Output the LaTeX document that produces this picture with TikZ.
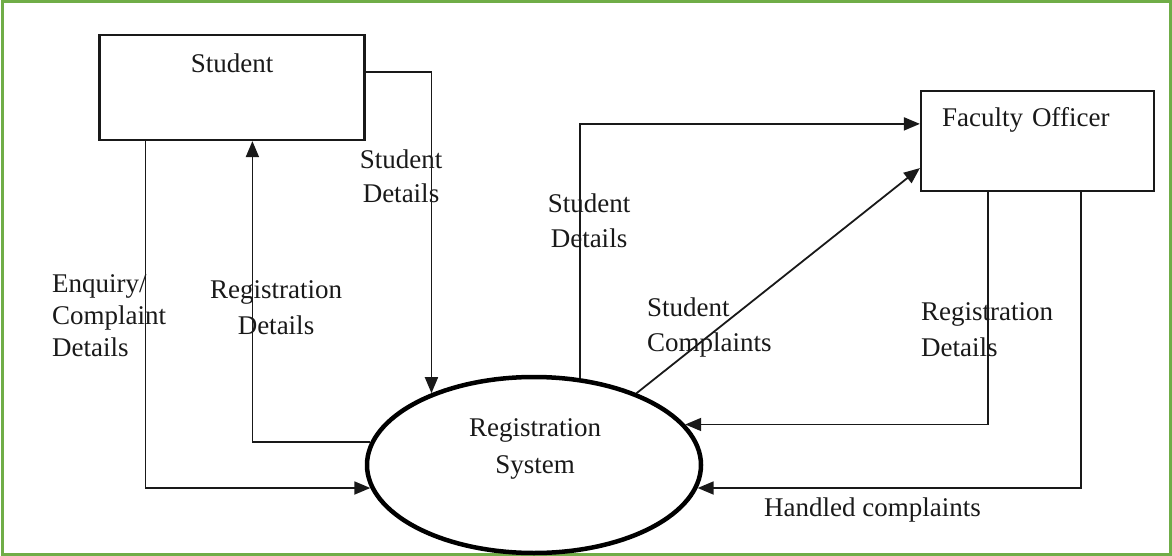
\documentclass[tikz,border=0pt]{standalone}
\usepackage{fontspec}
\setmainfont{Liberation Serif}
\usetikzlibrary{arrows.meta,shapes.geometric}
\definecolor{framegreen}{RGB}{112,173,71}
\definecolor{ink}{RGB}{25,25,25}
\begin{document}
\begin{tikzpicture}[x=1pt,y=-1pt,
  box/.style={draw=ink, line width=2.2pt, inner ysep=0pt, text=ink, font=\fontsize{27}{35}\selectfont},
  proc/.style={draw=black, ellipse, line width=4.5pt, minimum width=334pt, minimum height=176pt, inner sep=0pt},
  flow/.style={draw=ink, line width=1.8pt, -{Triangle[length=16pt,width=13pt]}},
  lbl/.style={inner sep=0pt, text=ink, font=\fontsize{27}{35}\selectfont}]
\useasboundingbox (0,0) rectangle (1172,556);
\draw[framegreen, line width=3pt] (2,2) rectangle (1170,554);

\node[box, minimum width=265pt, text height=38pt, text depth=67pt] (student) at (232,87.5) {Student};
\node[box, minimum width=233pt, text width=191pt, inner xsep=0pt, align=left, text height=36pt, text depth=64pt] (faculty) at (1037.5,141) {Faculty Officer};
\node[proc] (rs) at (534,465) {};
\node[lbl, align=center, anchor=north, font=\fontsize{27}{37}\selectfont] (rstext) at (535,418.5) {Registration\\System};

\draw[flow] ([xshift=47pt]student.south west) |- (rs.188.8);
\draw[flow] (rs.172.35) -| ([xshift=154pt]student.south west);
\draw[flow] ([yshift=-38pt]student.north east) -| (rs.145.3);
\draw[flow] (rs.62) |- ([yshift=-34pt]faculty.north west);
\draw[flow] (rs.35) -- ([yshift=24pt]faculty.south west);
\draw[flow] ([xshift=68pt]faculty.south west) |- (rs.15.7);
\draw[flow] ([xshift=161pt]faculty.south west) |- (rs.352);

\node[lbl, align=center, anchor=north, font=\fontsize{27}{34}\selectfont] (l1) at (401,149.5) {Student\\Details};
\node[lbl, align=center, anchor=north] (l2) at (589,193.5) {Student\\Details};
\node[lbl, align=left, anchor=north west, font=\fontsize{27}{32}\selectfont] (l3) at (52,274.5) {Enquiry/\\Complaint\\Details};
\node[lbl, align=center, anchor=north, font=\fontsize{27}{36}\selectfont] (l4) at (276,280.5) {Registration\\Details};
\node[lbl, align=left, anchor=north west] (l5) at (647,297.5) {Student\\Complaints};
\node[lbl, align=left, anchor=north west, font=\fontsize{27}{36}\selectfont] (l6) at (921,302.5) {Registration\\Details};
\node[lbl, anchor=north west] (l7) at (764,497.5) {Handled complaints};
\end{tikzpicture}
\end{document}
